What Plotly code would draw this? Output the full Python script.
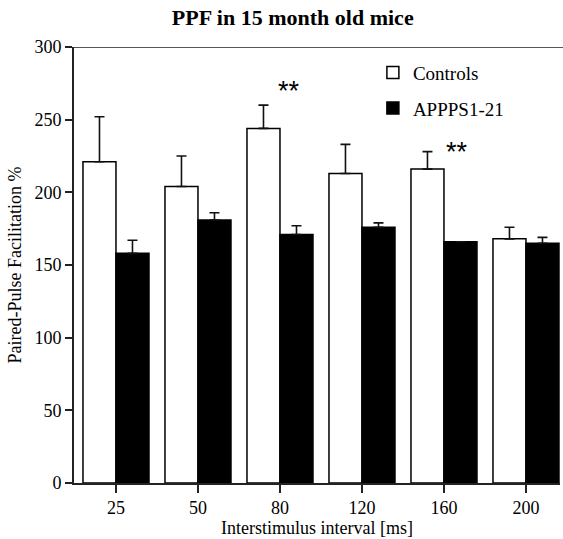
import plotly.graph_objects as go

categories = ["25", "50", "80", "120", "160", "200"]
controls = [221, 204, 244, 213, 216, 168]
controls_err = [31, 21, 16, 20, 12, 8]
appps = [158, 181, 171, 176, 166, 165]
appps_err = [9, 5, 6, 3, None, 4]
star_labels = ["**", "**"]
star_x = [2.11, 4.16]
star_y = [270, 228]

xpos = list(range(len(categories)))
FONT = "Liberation Serif"

fig = go.Figure()
fig.add_trace(go.Bar(
    x=xpos, y=controls, name="Controls", legendgroup="a",
    marker=dict(color="white", line=dict(color="black", width=1.5)),
    error_y=dict(type="data", symmetric=False, array=controls_err,
                 arrayminus=[0] * len(controls), color="#111", thickness=1.6, width=5),
))
fig.add_trace(go.Bar(
    x=xpos, y=appps, name="APPPS1-21", legendgroup="b",
    marker=dict(color="black", line=dict(color="black", width=1.5)),
    error_y=dict(type="data", symmetric=False, array=appps_err,
                 arrayminus=[0] * len(appps), color="#111", thickness=1.6, width=5),
))

for t, x, y in zip(star_labels, star_x, star_y):
    fig.add_annotation(x=x, y=y, text=t, showarrow=False,
                       font=dict(family="Liberation Sans", size=27, color="black"),
                       xanchor="center", yanchor="middle")

fig.add_shape(type="line", xref="paper", yref="y", x0=0, x1=1.01, y0=300, y1=300,
              line=dict(color="#555", width=2))

fig.update_layout(
    width=563, height=539,
    margin=dict(l=74, r=3, t=47, b=56),
    paper_bgcolor="white", plot_bgcolor="white",
    barmode="group", bargap=0.195, bargroupgap=0,
    font=dict(family=FONT, size=18, color="black"),
    title=dict(text="<b>PPF in 15 month old mice</b>", x=0.52, xref="container",
               xanchor="center", y=1 - 17 / 539, yanchor="middle",
               font=dict(family=FONT, size=22, color="black")),
    legend=dict(x=0.615, y=0.985, xanchor="left", yanchor="top",
                bgcolor="rgba(0,0,0,0)", font=dict(family=FONT, size=19, color="black"),
                tracegroupgap=8),
    showlegend=True,
)
fig.update_xaxes(
    range=[-0.512, 5.415], tickvals=xpos, ticktext=categories,
    showline=True, linecolor="#222", linewidth=1.6,
    ticks="outside", ticklen=8, tickwidth=1.6, tickcolor="#222",
    showgrid=False, zeroline=False,
    title=dict(text="Interstimulus interval [ms]", standoff=2,
               font=dict(family=FONT, size=18, color="black")),
    tickfont=dict(family=FONT, size=18, color="black"),
)
fig.update_yaxes(
    range=[0, 300], tickvals=[0, 50, 100, 150, 200, 250, 300],
    showline=True, linecolor="#222", linewidth=1.6,
    ticks="outside", ticklen=7, tickwidth=1.6, tickcolor="#222",
    showgrid=False, zeroline=False,
    title=dict(text="Paired-Pulse Facilitation %", standoff=8,
               font=dict(family=FONT, size=18, color="black")),
    tickfont=dict(family=FONT, size=18, color="black"),
)

fig.write_html("out.html")
